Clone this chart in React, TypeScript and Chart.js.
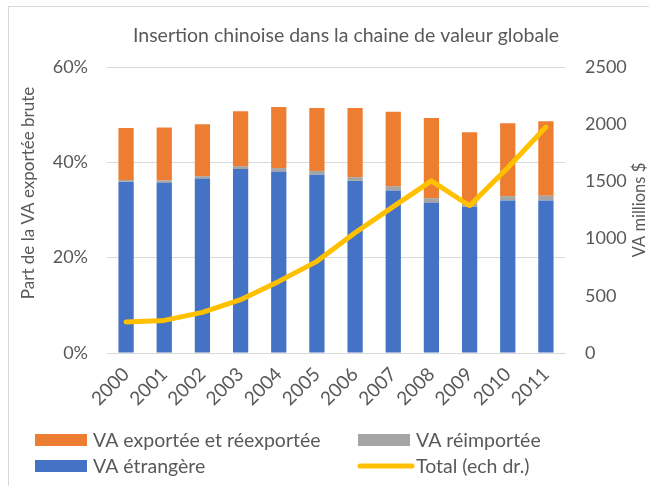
import React, { useEffect, useRef } from "react";
import { Chart, registerables } from "chart.js";

Chart.register(...registerables);

const categories = ["2000", "2001", "2002", "2003", "2004", "2005", "2006", "2007", "2008", "2009", "2010", "2011"];
const vaEtrangere = [35.9, 35.7, 36.6, 38.6, 38.0, 37.4, 36.1, 34.1, 31.5, 30.7, 32.0, 32.0];
const vaReimportee = [0.4, 0.5, 0.5, 0.6, 0.8, 0.8, 0.8, 0.9, 1.0, 0.7, 0.9, 1.0];
const vaExportee = [10.9, 11.1, 10.9, 11.5, 12.8, 13.2, 14.5, 15.6, 16.8, 14.9, 15.3, 15.6];
const totalMillions = [271, 285, 355, 466, 626, 801, 1051, 1279, 1505, 1287, 1619, 1975];

const chartTitle = "Insertion chinoise dans la chaine de valeur globale";
const leftTitle = "Part de la VA exportée brute";
const rightTitle = "VA millions $";

const FONT = "Lato";
const TEXT = "#595959";
const GRID = "#D9D9D9";

const decorations = {
  id: "decorations",
  afterDraw(chart: any) {
    const ctx = chart.ctx;
    ctx.save();
    // frame
    ctx.strokeStyle = GRID;
    ctx.lineWidth = 1;
    ctx.strokeRect(8.5, 6.5, 800, 800);
    // title
    ctx.fillStyle = TEXT;
    ctx.font = `19.5px ${FONT}`;
    ctx.textAlign = "center";
    ctx.textBaseline = "middle";
    ctx.fillText(chartTitle, 346, 36);
    // left axis title
    ctx.font = `17px ${FONT}`;
    ctx.save();
    ctx.translate(29, 193);
    ctx.rotate(-Math.PI / 2);
    ctx.fillText(leftTitle, 0, 0);
    ctx.restore();
    // right axis title
    ctx.font = `16.5px ${FONT}`;
    ctx.save();
    ctx.translate(640, 210);
    ctx.rotate(-Math.PI / 2);
    ctx.fillText(rightTitle, 0, 0);
    ctx.restore();
    // legend (2x2 grid)
    const ds = chart.data.datasets;
    const items = [ds[2], ds[1], ds[0], ds[3]];
    const cols = [35, 358];
    const rows = [440, 466];
    ctx.font = `19.5px ${FONT}`;
    ctx.textAlign = "left";
    items.forEach((d: any, i: number) => {
      const x = cols[i % 2];
      const y = rows[Math.floor(i / 2)];
      if (d.type === "line") {
        ctx.strokeStyle = d.borderColor;
        ctx.lineWidth = 5;
        ctx.lineCap = "round";
        ctx.beginPath();
        ctx.moveTo(x + 2, y);
        ctx.lineTo(x + 54, y);
        ctx.stroke();
      } else {
        ctx.fillStyle = d.backgroundColor;
        ctx.fillRect(x, y - 6, 52, 12);
      }
      ctx.fillStyle = TEXT;
      ctx.fillText(d.label, x + 58, y + 1);
    });
    ctx.restore();
  },
};

export default function App() {
  const ref = useRef<HTMLCanvasElement>(null);
  useEffect(() => {
    if (!ref.current) return;
    const chart = new Chart(ref.current, {
      type: "bar",
      data: {
        labels: categories,
        datasets: [
          { type: "bar", label: "VA étrangère", data: vaEtrangere, backgroundColor: "#4472C4", yAxisID: "y", stack: "s", order: 1, barPercentage: 0.4, categoryPercentage: 1 },
          { type: "bar", label: "VA réimportée", data: vaReimportee, backgroundColor: "#A5A5A5", yAxisID: "y", stack: "s", order: 1, barPercentage: 0.4, categoryPercentage: 1 },
          { type: "bar", label: "VA exportée et réexportée", data: vaExportee, backgroundColor: "#ED7D31", yAxisID: "y", stack: "s", order: 1, barPercentage: 0.4, categoryPercentage: 1 },
          { type: "line", label: "Total (ech dr.)", data: totalMillions, borderColor: "#FFC000", backgroundColor: "#FFC000", borderWidth: 5, pointRadius: 0, tension: 0, yAxisID: "y1", order: 0, borderCapStyle: "round", borderJoinStyle: "round" } as any,
        ],
      },
      options: {
        animation: false,
        responsive: false,
        layout: { padding: { top: 67, bottom: 0, left: 0, right: 0 } },
        plugins: { legend: { display: false }, tooltip: { enabled: false }, title: { display: false } },
        scales: {
          x: {
            stacked: true,
            grid: { display: false },
            border: { display: true, color: GRID, width: 1 },
            ticks: { color: TEXT, font: { family: FONT, size: 19 }, maxRotation: 45, minRotation: 45, padding: 2 },
            afterFit: (s: any) => { s.height = 133; },
          },
          y: {
            stacked: true,
            position: "left",
            min: 0,
            max: 60,
            grid: { color: GRID, drawTicks: false },
            border: { display: false },
            ticks: { stepSize: 20, color: TEXT, font: { family: FONT, size: 18 }, padding: 19, callback: (v: any) => v + "%" },
            afterFit: (s: any) => { s.width = 107; },
          },
          y1: {
            position: "right",
            min: 0,
            max: 2500,
            grid: { display: false, drawTicks: false },
            border: { display: false },
            ticks: { stepSize: 500, color: TEXT, font: { family: FONT, size: 18 }, padding: 20, callback: (v: any) => String(v) },
            afterFit: (s: any) => { s.width = 84; },
          },
        },
      } as any,
      plugins: [decorations],
    });
    return () => chart.destroy();
  }, []);
  return (
    <div style={{ position: "fixed", left: 0, top: 0, width: 649, height: 486, background: "#fff" }}>
      <canvas ref={ref} width={649} height={486} style={{ display: "block" }} />
    </div>
  );
}
